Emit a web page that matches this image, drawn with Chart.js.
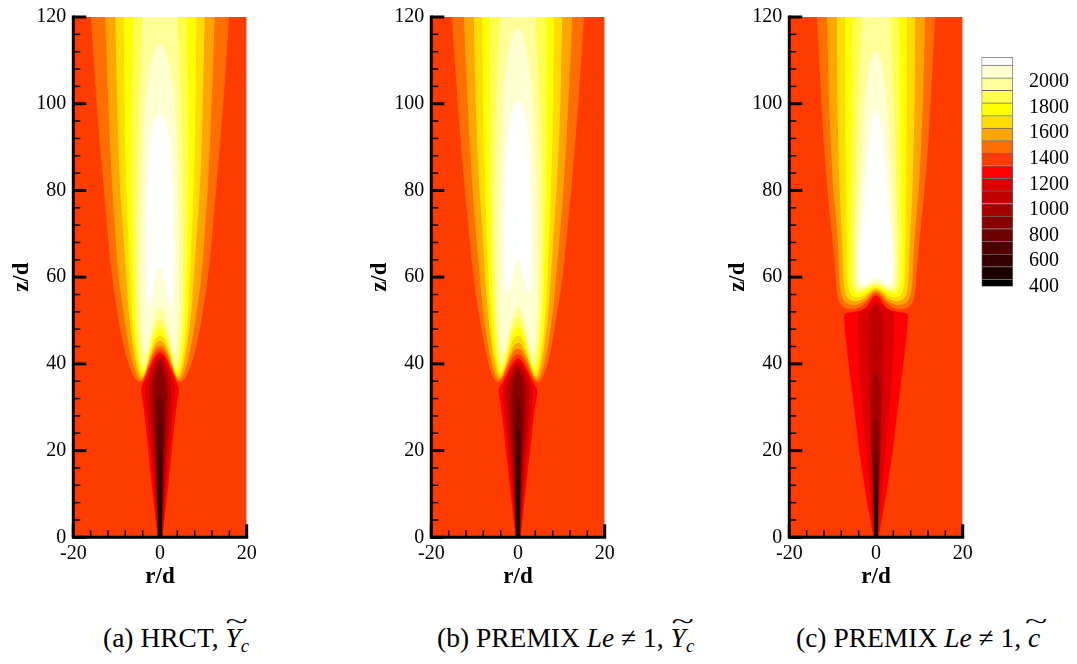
<!DOCTYPE html>
<html>
<head>
<meta charset="utf-8">
<script src="https://cdn.jsdelivr.net/npm/chart.js@4.4.1/dist/chart.umd.min.js"></script>
<style>
  body { margin: 0; background: #fff; width: 1077px; height: 664px; position: relative; overflow: hidden; font-family: "Liberation Serif", serif; }
  canvas { position: absolute; }
  .cap { position: absolute; top: 624px; font-size: 27.5px; line-height: 1; white-space: nowrap; color: #000; }
  .cap sub { font-size: 0.68em; vertical-align: -0.28em; }
  .wt { position: relative; display: inline-block; }
  .wt::before { content: "~"; position: absolute; left: 0; right: 0; top: -0.62em; text-align: center; font-style: normal; transform: scaleX(1.5) scaleY(0.8); }
</style>
</head>
<body>
<canvas id="panelA" width="300" height="605" style="left:0px;top:-5.3px"></canvas>
<canvas id="panelB" width="300" height="605" style="left:358px;top:-5.3px"></canvas>
<canvas id="panelC" width="300" height="605" style="left:716px;top:-5.3px"></canvas>
<canvas id="legend" width="117" height="290" style="left:960px;top:26.7px"></canvas>

<div class="cap" style="left:103px">(a) HRCT, <span class="wt"><i>Y</i><sub><i>c</i></sub></span></div>
<div class="cap" style="left:437px">(b) PREMIX <i>Le</i> &ne; 1, <span class="wt"><i>Y</i><sub><i>c</i></sub></span></div>
<div class="cap" style="left:796px">(c) PREMIX <i>Le</i> &ne; 1, <span class="wt"><i>c</i></span></div>

<script>
// temperature levels (K) bounding each colour band, and the band colours
const levels = [400, 457, 556, 655, 753, 852, 951, 1050, 1148, 1246, 1344, 1443, 1541, 1639, 1738, 1836, 1935, 2033, 2131, 2195];
const bandColors = ['#000000', '#1c0000', '#340000', '#500000', '#6c0000', '#880000', '#a40000', '#c00000', '#dc0000', '#ff0000',
                    '#ff3c00', '#ff6e00', '#ffa500', '#ffdc00', '#ffff00', '#ffff50', '#ffff99', '#ffffd2', '#ffffff'];
const colorbarTicks = [400, 600, 800, 1000, 1200, 1400, 1600, 1800, 2000];
const ambientBand = 10;

// contour lines, right half [r/d, z/d]; hot lines are bands 11..18, cold lines bands 9..0
const hotA = [
  [[0,43.5],[0.8,43.1],[1.6,41.8],[2.4,39.8],[3.2,37.8],[3.8,36.4],[4.4,35.7],[5.0,35.8],[5.8,36.6],[6.6,38.2],[7.6,41],[8.6,45],[9.6,50],[10.5,56],[11.3,62],[12.1,70],[12.9,80],[13.8,90],[14.6,100],[15.3,110],[15.9,120],[16,122]],
  [[0,44.3],[0.8,43.9],[1.6,42.6],[2.4,40.6],[3.1,38.6],[3.7,37],[4.2,36.3],[4.7,36.4],[5.3,37.2],[6.0,39],[6.9,42.5],[7.7,47],[8.4,52],[9.0,56],[9.6,60],[10.3,70],[11.0,80],[11.5,90],[11.9,100],[12.3,110],[12.6,120],[12.7,122]],
  [[0,45.5],[0.8,45.0],[1.5,43.8],[2.2,41.8],[2.9,39.6],[3.5,37.6],[4.0,36.8],[4.5,37.0],[5.0,38.0],[5.6,40.5],[6.3,44.5],[6.9,49],[7.4,54],[7.8,60],[8.5,70],[9.2,80],[9.6,90],[9.9,100],[10.1,110],[10.3,120],[10.3,122]],
  [[0,46.7],[0.8,46.2],[1.5,45],[2.1,43],[2.8,40.6],[3.3,38.5],[3.8,37.4],[4.3,37.6],[4.8,38.8],[5.3,41.5],[5.9,45.5],[6.4,50.5],[6.7,55],[6.9,60],[7.3,70],[7.8,80],[8.0,90],[8.2,100],[8.3,110],[8.4,120],[8.4,122]],
  [[0,48.2],[0.7,47.7],[1.4,46.4],[2.0,44.3],[2.6,41.8],[3.1,39.5],[3.6,38.2],[4.1,38.4],[4.6,40],[5.1,43.5],[5.6,48],[5.9,53],[6.1,60],[6.4,70],[6.6,80],[6.6,90],[6.5,100],[6.3,110],[6.1,120],[6.1,122]],
  [[0,50.2],[0.7,49.6],[1.3,48.2],[1.9,46],[2.4,43.5],[2.9,41],[3.4,39.4],[3.9,39.6],[4.4,41.5],[4.8,45],[5.1,50],[5.3,56],[5.4,63],[5.4,70],[5.3,80],[5.1,90],[4.8,100],[4.4,110],[4.0,120],[3.9,122]],
  [[0,53.3],[0.6,52.7],[1.2,51],[1.8,48.5],[2.3,45.5],[2.8,43],[3.3,42],[3.8,43],[4.1,46],[4.3,50],[4.4,56],[4.4,63],[4.4,70],[4.2,80],[3.9,90],[3.4,100],[2.6,107],[1.6,111.5],[0.7,113.5],[0,114]],
  [[0,62.4],[0.5,61.6],[1.0,59.5],[1.5,56.5],[2.0,54],[2.5,53],[2.9,53.8],[3.1,57],[3.2,63],[3.2,70],[3.0,80],[2.6,88],[1.9,94],[1.0,97],[0,97.7]]
];
const coldA = [
  [[0,42.7],[0.7,42.3],[1.5,41.1],[2.4,39.2],[3.3,37],[4.0,35.3],[4.4,34.4],[4.25,33],[3.8,30],[3.2,25],[2.7,20],[2.2,15],[1.7,10],[1.1,5],[0.6,0],[0.6,-1]],
  [[0,42.1],[0.7,41.6],[1.5,40.2],[2.3,38.2],[3.0,36.2],[3.4,35],[3.4,33],[3.0,29],[2.5,24],[2.1,20],[1.7,15],[1.3,10],[0.9,5],[0.55,0],[0.55,-1]],
  [[0,41.5],[0.7,40.9],[1.4,39.4],[2.0,37.5],[2.5,35.4],[2.6,33],[2.4,29],[2.0,24],[1.6,20],[1.3,15],[1.0,10],[0.75,5],[0.5,0],[0.5,-1]],
  [[0,40.8],[0.6,40.2],[1.2,38.6],[1.6,36.4],[1.9,34],[1.9,31],[1.7,27],[1.4,22],[1.2,18],[0.9,12],[0.65,6],[0.48,0],[0.48,-1]],
  [[0,39.8],[0.5,39.1],[0.95,37.3],[1.25,35],[1.35,32],[1.3,28],[1.1,23],[0.9,18],[0.7,12],[0.55,6],[0.45,0],[0.45,-1]],
  [[0,33.5],[0.4,32.5],[0.75,30],[0.85,27],[0.82,23],[0.72,18],[0.6,12],[0.5,6],[0.42,0],[0.42,-1]],
  [[0,26.5],[0.33,25.5],[0.55,23],[0.6,19],[0.55,14],[0.47,8],[0.4,0],[0.4,-1]],
  [[0,19.5],[0.3,18.5],[0.45,16],[0.47,12],[0.42,7],[0.37,0],[0.37,-1]],
  [[0,14],[0.25,13],[0.38,10],[0.38,6],[0.35,0],[0.35,-1]],
  [[0,10],[0.2,9],[0.3,6],[0.32,0],[0.32,-1]]
];

const hotB = [
  [[0,42.4],[0.8,42],[1.6,40.8],[2.4,39],[3.2,37.3],[3.8,36.2],[4.4,35.7],[5.0,35.9],[5.7,36.8],[6.5,38.8],[7.3,42],[8.2,46.5],[9.0,51.5],[9.7,56],[10.3,60],[11.3,70],[12.3,80],[13.1,90],[13.9,100],[14.6,110],[15.25,120],[15.3,122]],
  [[0,43.6],[0.8,43.2],[1.6,41.9],[2.4,40],[3.1,38.2],[3.7,36.8],[4.2,36.3],[4.7,36.5],[5.3,37.5],[6.0,39.8],[6.8,43.5],[7.6,48.5],[8.3,54],[8.8,60],[9.7,70],[10.5,80],[11.1,90],[11.6,100],[12.1,110],[12.5,120],[12.55,122]],
  [[0,45.0],[0.8,44.5],[1.5,43.2],[2.2,41.3],[2.9,39.3],[3.5,37.6],[4.0,36.9],[4.5,37.2],[5.0,38.4],[5.6,41],[6.3,45.5],[6.9,51],[7.3,56],[7.6,60],[8.2,70],[8.9,80],[9.4,90],[9.8,100],[10.0,110],[10.2,120],[10.2,122]],
  [[0,46.6],[0.8,46.1],[1.5,44.8],[2.1,42.8],[2.7,40.6],[3.3,38.6],[3.8,37.5],[4.3,37.8],[4.8,39.2],[5.3,42],[5.9,46.5],[6.3,51.5],[6.6,56],[6.8,60],[7.2,70],[7.6,80],[7.9,90],[8.1,100],[8.2,110],[8.3,120],[8.3,122]],
  [[0,48.6],[0.7,48.1],[1.4,46.7],[2.0,44.5],[2.6,42],[3.1,39.8],[3.6,38.4],[4.1,38.7],[4.6,40.5],[5.1,44],[5.5,48.5],[5.8,53.5],[6.0,60],[6.3,70],[6.5,80],[6.6,90],[6.6,100],[6.6,110],[6.6,120],[6.6,122]],
  [[0,50.8],[0.7,50.2],[1.3,48.7],[1.9,46.4],[2.4,43.8],[2.9,41.2],[3.4,39.6],[3.9,39.9],[4.4,42],[4.8,45.8],[5.1,51],[5.3,57],[5.5,64],[5.6,70],[5.6,80],[5.4,90],[5.1,100],[4.6,110],[4.0,120],[4.0,122]],
  [[0,53.3],[0.6,52.7],[1.2,51],[1.8,48.5],[2.3,45.5],[2.8,43],[3.3,42.2],[3.8,43.3],[4.2,46.5],[4.4,51],[4.5,57],[4.5,64],[4.4,72],[4.2,80],[3.9,90],[3.5,100],[2.8,108],[1.8,114],[0.8,117],[0,117.6]],
  [[0,64.3],[0.5,63.5],[1.0,61.4],[1.5,58.6],[2.0,56.8],[2.5,56.4],[2.9,57.5],[3.1,61],[3.2,67],[3.2,74],[3.0,82],[2.6,90],[1.9,96],[1.0,99.8],[0,100.8]]
];
const coldB = [
  [[0,41.4],[0.7,41],[1.5,39.8],[2.4,38],[3.3,36.2],[4.0,34.9],[4.5,34.3],[4.4,33],[3.9,30],[3.3,25],[2.8,20],[2.2,15],[1.7,10],[1.1,5],[0.6,0],[0.6,-1]],
  [[0,40.8],[0.7,40.3],[1.5,39],[2.3,37.2],[3.0,35.5],[3.5,34.5],[3.5,33],[3.1,29],[2.6,24],[2.2,20],[1.7,15],[1.3,10],[0.9,5],[0.55,0],[0.55,-1]],
  [[0,40.2],[0.7,39.6],[1.4,38.2],[2.0,36.5],[2.6,34.8],[2.7,33],[2.5,29],[2.1,24],[1.7,20],[1.3,15],[1.0,10],[0.75,5],[0.5,0],[0.5,-1]],
  [[0,39.5],[0.6,38.9],[1.2,37.4],[1.6,35.6],[1.9,33.5],[1.9,31],[1.7,27],[1.45,22],[1.2,18],[0.9,12],[0.65,6],[0.48,0],[0.48,-1]],
  [[0,38.5],[0.5,37.8],[0.95,36.2],[1.25,34.3],[1.35,32],[1.3,28],[1.1,23],[0.9,18],[0.7,12],[0.55,6],[0.45,0],[0.45,-1]],
  [[0,32.5],[0.4,31.6],[0.75,29.3],[0.85,26.5],[0.82,23],[0.72,18],[0.6,12],[0.5,6],[0.42,0],[0.42,-1]],
  [[0,26],[0.33,25],[0.55,22.6],[0.6,19],[0.55,14],[0.47,8],[0.4,0],[0.4,-1]],
  [[0,19.5],[0.3,18.5],[0.45,16],[0.47,12],[0.42,7],[0.37,0],[0.37,-1]],
  [[0,14.5],[0.25,13.5],[0.38,10.5],[0.38,6],[0.35,0],[0.35,-1]],
  [[0,11],[0.2,10],[0.3,7],[0.32,0],[0.32,-1]]
];

const hotC = [
  [[0,56.3],[0.8,55.9],[1.6,55],[2.5,53.9],[3.5,53.1],[5,52.6],[6.5,52.6],[7.6,53.0],[8.4,54],[8.9,55.5],[9.2,58],[9.4,62],[10.2,70],[11.2,80],[12.0,90],[12.6,100],[13.1,110],[13.6,120],[13.7,122]],
  [[0,56.8],[0.8,56.4],[1.6,55.6],[2.5,54.6],[3.5,53.9],[5,53.5],[6.3,53.6],[7.2,54.2],[7.9,55.5],[8.3,57.5],[8.5,61],[8.9,70],[9.9,80],[10.4,90],[10.8,100],[11.1,110],[11.3,120],[11.35,122]],
  [[0,57.2],[0.8,56.9],[1.6,56.2],[2.5,55.3],[3.5,54.7],[4.8,54.4],[5.9,54.6],[6.7,55.3],[7.2,56.7],[7.5,59],[7.6,63],[7.9,70],[8.4,80],[8.7,90],[8.9,100],[9.0,110],[9.0,120],[9.0,122]],
  [[0,57.6],[0.8,57.3],[1.6,56.8],[2.5,56],[3.5,55.5],[4.6,55.3],[5.5,55.6],[6.1,56.5],[6.5,58],[6.7,61],[6.8,70],[6.9,80],[7.0,90],[7.1,100],[7.1,110],[7.1,120],[7.1,122]],
  [[0,58.0],[0.8,57.7],[1.6,57.3],[2.5,56.7],[3.5,56.3],[4.4,56.2],[5.1,56.6],[5.6,57.6],[5.9,59.5],[5.9,63],[5.9,70],[5.8,80],[5.7,90],[5.6,100],[5.5,110],[5.4,120],[5.4,122]],
  [[0,58.5],[0.8,58.2],[1.6,57.8],[2.5,57.3],[3.4,57.0],[4.2,57.1],[4.7,57.8],[5.0,59.2],[5.0,62],[5.0,70],[4.7,80],[4.5,90],[4.2,100],[3.7,110],[3.2,120],[3.2,122]],
  [[0,59.0],[0.8,58.7],[1.6,58.3],[2.5,57.8],[3.3,57.6],[4.0,57.8],[4.3,58.6],[4.4,60.5],[4.4,64],[4.3,70],[3.7,80],[3.2,90],[2.6,100],[1.8,107],[1.0,111],[0,112.5]],
  [[0,60.0],[0.6,59.8],[1.2,59.3],[1.8,58.8],[2.5,58.4],[3.2,58.4],[3.7,58.9],[3.9,60],[4.0,63],[3.8,67],[3.3,72],[2.5,80],[1.9,90],[1.2,95],[0.6,97.8],[0,98.8]]
];
const coldC = [
  [[0,55.8],[0.6,55.5],[1.3,54.4],[2.2,53.1],[3.5,52.3],[5.0,52.0],[6.5,51.8],[7.3,51.6],[7.4,51.0],[7.2,48],[6.8,44],[6.3,40],[5.6,34],[4.8,28],[3.9,20],[3.0,14],[2.2,9],[1.3,4],[0.6,0],[0.6,-1]],
  [[0,54.6],[0.7,54.2],[1.5,53.3],[2.5,52.6],[3.5,52.2],[4.1,51.8],[4.2,50],[4.1,46],[3.9,40],[3.4,33],[2.8,26],[2.2,20],[1.6,14],[1.1,9],[0.7,4],[0.5,0],[0.5,-1]],
  [[0,53.6],[0.6,53.3],[1.2,52.6],[1.5,51.5],[1.7,49],[1.7,45],[1.6,40],[1.5,34],[1.35,28],[1.15,22],[0.95,16],[0.7,10],[0.5,4],[0.42,0],[0.42,-1]],
  [[0,38.4],[0.4,37.8],[0.8,36],[1.1,33],[1.2,29],[1.1,24],[0.9,18],[0.72,12],[0.55,6],[0.4,0],[0.4,-1]],
  [[0,28],[0.35,27.3],[0.65,25.5],[0.8,22],[0.75,17],[0.6,11],[0.45,5],[0.37,0],[0.37,-1]],
  [[0,21],[0.3,20.3],[0.55,18.5],[0.6,15],[0.55,10],[0.42,5],[0.35,0],[0.35,-1]],
  [[0,17],[0.28,16.2],[0.45,14],[0.47,10],[0.4,5],[0.33,0],[0.33,-1]],
  [[0,13],[0.25,12.2],[0.38,10],[0.38,6],[0.33,0],[0.33,-1]],
  [[0,10],[0.22,9.2],[0.32,7],[0.32,3],[0.3,0],[0.3,-1]],
  [[0,7.5],[0.18,6.8],[0.27,4.5],[0.28,0],[0.28,-1]]
];

const tickFont = { family: 'Liberation Serif', size: 20 };
const titleFont = { family: 'Liberation Serif', size: 23, weight: 'bold' };

// the field is axisymmetric: close each half contour with its mirror image
function mirror(edge) {
  const right = edge.map(([r, z]) => ({ x: r, y: z }));
  const left = edge.slice().reverse().filter(([r]) => r !== 0).map(([r, z]) => ({ x: -r, y: z }));
  return right.concat(left);
}

function tracePath(ctx, pts) {
  const n = pts.length;
  const mid = (a, b) => ({ x: (a.x + b.x) / 2, y: (a.y + b.y) / 2 });
  const start = mid(pts[n - 1], pts[0]);
  ctx.moveTo(start.x, start.y);
  for (let i = 0; i < n; i++) {
    const q = mid(pts[i], pts[(i + 1) % n]);
    ctx.quadraticCurveTo(pts[i].x, pts[i].y, q.x, q.y);
  }
  ctx.closePath();
}

// fills the flood bands from the dataset points placed by the scales
const contourFill = {
  id: 'contourFill',
  beforeDatasetsDraw(chart) {
    const { ctx, chartArea: a } = chart;
    ctx.save();
    ctx.beginPath();
    ctx.rect(a.left, a.top, a.right - a.left, a.bottom - a.top);
    ctx.clip();
    ctx.fillStyle = bandColors[ambientBand];
    ctx.fillRect(a.left, a.top, a.right - a.left, a.bottom - a.top);
    chart.data.datasets.forEach((ds, i) => {
      const pts = chart.getDatasetMeta(i).data;
      ctx.beginPath();
      tracePath(ctx, pts);
      ctx.fillStyle = bandColors[ds.band];
      ctx.fill();
    });
    ctx.restore();
  }
};

// left and bottom axes with inward major and minor ticks
const frame = {
  id: 'frame',
  afterDraw(chart) {
    const { ctx, chartArea: a, scales: { x, y } } = chart;
    const seg = (x1, y1, x2, y2) => { ctx.beginPath(); ctx.moveTo(x1, y1); ctx.lineTo(x2, y2); ctx.stroke(); };
    ctx.save();
    ctx.strokeStyle = '#000';
    ctx.lineWidth = 1.5;
    for (let v = y.min; v <= y.max; v += 4) seg(a.left, y.getPixelForValue(v), a.left + 7, y.getPixelForValue(v));
    for (let v = x.min; v <= x.max; v += 4) seg(x.getPixelForValue(v), a.bottom, x.getPixelForValue(v), a.bottom - 7);
    ctx.lineWidth = 3;
    y.ticks.forEach(t => seg(a.left, y.getPixelForValue(t.value), a.left + 13, y.getPixelForValue(t.value)));
    x.ticks.forEach(t => seg(x.getPixelForValue(t.value), a.bottom, x.getPixelForValue(t.value), a.bottom - 13));
    ctx.beginPath();
    ctx.moveTo(a.left, a.top - 1.5);
    ctx.lineTo(a.left, a.bottom);
    ctx.lineTo(a.right + 1.5, a.bottom);
    ctx.stroke();
    ctx.restore();
  }
};

function panelChart(id, hot, cold) {
  const datasets = [];
  hot.forEach((edge, i) => datasets.push({ band: 11 + i, data: mirror(edge) }));
  cold.forEach((edge, i) => datasets.push({ band: 9 - i, data: mirror(edge) }));
  datasets.forEach(d => { d.pointRadius = 0; d.showLine = false; });
  return new Chart(document.getElementById(id), {
    type: 'scatter',
    data: { datasets },
    options: {
      responsive: false,
      animation: false,
      events: [],
      layout: { padding: { left: 0, right: 53.3, top: 22, bottom: 0 } },
      plugins: { legend: { display: false }, tooltip: { enabled: false } },
      scales: {
        x: {
          type: 'linear', min: -20, max: 20,
          ticks: { stepSize: 20, padding: 4, font: tickFont, color: '#000', maxRotation: 0 },
          grid: { display: false, drawTicks: false },
          border: { display: false },
          title: { display: true, text: 'r/d', font: titleFont, color: '#000', padding: { top: 0, bottom: 9 } },
          afterFit: s => { s.height = 62.7; }
        },
        y: {
          type: 'linear', min: 0, max: 120,
          ticks: { stepSize: 20, padding: 7, font: tickFont, color: '#000' },
          grid: { display: false, drawTicks: false },
          border: { display: false },
          title: { display: true, text: 'z/d', font: titleFont, color: '#000', padding: { top: 8, bottom: 0 } },
          afterFit: s => { s.width = 73.3; }
        }
      }
    },
    plugins: [contourFill, frame]
  });
}

panelChart('panelA', hotA, coldA);
panelChart('panelB', hotB, coldB);
panelChart('panelC', hotC, coldC);

// colour legend: one floating bar per band
new Chart(document.getElementById('legend'), {
  type: 'bar',
  data: {
    labels: [''],
    datasets: bandColors.map((c, i) => ({
      data: [[levels[i], levels[i + 1]]],
      backgroundColor: c,
      borderColor: '#6a6a6a',
      borderWidth: { top: 1, left: 1, right: 1, bottom: i === 0 ? 1 : 0 },
      borderSkipped: false,
      barPercentage: 1,
      categoryPercentage: 1,
      grouped: false
    }))
  },
  options: {
    responsive: false,
    animation: false,
    events: [],
    layout: { padding: { left: 21.5, right: 0, top: 30, bottom: 30.4 } },
    plugins: { legend: { display: false }, tooltip: { enabled: false } },
    scales: {
      x: {
        display: false,
        grid: { drawTicks: false },
        ticks: { display: false },
        afterFit: s => { s.height = 0; }
      },
      y: {
        position: 'right', min: levels[0], max: levels[levels.length - 1],
        afterBuildTicks: s => { s.ticks = colorbarTicks.map(v => ({ value: v })); },
        ticks: { padding: 16, font: tickFont, color: '#000', callback: v => String(v) },
        grid: { display: false, drawTicks: false },
        border: { display: false },
        afterFit: s => { s.width = 64; }
      }
    }
  }
});
</script>
</body>
</html>
